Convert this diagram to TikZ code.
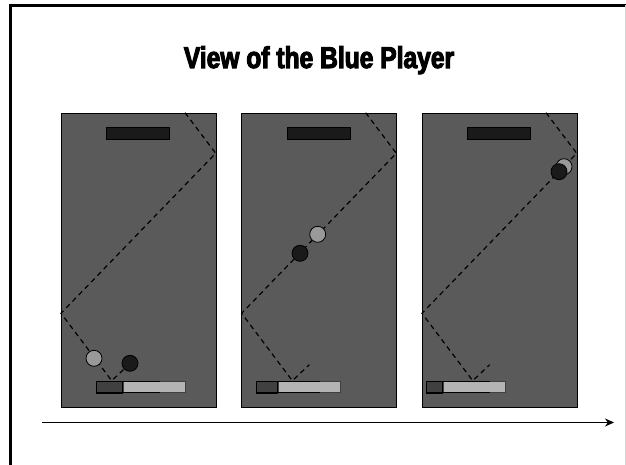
\documentclass[tikz,border=0pt]{standalone}
\usepackage{fontspec}
\newfontfamily\titlefont[FakeStretch=0.82,FakeBold=3.5]{Liberation Sans Bold}
\usepackage{tikz}
\usetikzlibrary{
  arrows.meta,
  positioning
}
\definecolor{fieldgray}{RGB}{90,90,90}
\definecolor{blockblack}{RGB}{26,26,26}
\definecolor{ballgray}{RGB}{153,153,153}
\definecolor{paddledark}{RGB}{64,64,64}
\definecolor{paddlelight}{RGB}{180,180,180}
\tikzset{
  field/.style={draw, fill=fieldgray, line width=0.8pt, inner sep=0pt,
    minimum width=155pt, minimum height=294pt, anchor=north west},
  topblock/.style={draw, fill=blockblack, line width=0.8pt, inner sep=0pt,
    minimum width=63pt, minimum height=11.5pt},
  paddle/.style={inner sep=0pt,
    minimum width=63pt, minimum height=11.3pt, anchor=north west},
  lightbar/.style={draw=paddledark, fill=paddlelight, line width=0.8pt, inner sep=0pt,
    minimum width=62pt, minimum height=11.3pt, anchor=north west},
  lightball/.style={circle, draw, fill=ballgray, line width=0.8pt,
    minimum size=16pt, inner sep=0pt},
  darkball/.style={circle, draw, fill=blockblack, line width=0.8pt,
    minimum size=16pt, inner sep=0pt},
  trail/.style={dashed, dash pattern=on 5pt off 4pt, line width=1.2pt},
  arr/.style={-{Stealth[length=9pt, width=8pt]}, line width=1.6pt},
}

\begin{document}
\begin{tikzpicture}[x=1pt, y=-1pt]
  \useasboundingbox (0,0) rectangle (626,465);

  % Slide frame
  \draw[line width=2.6pt] (10.5,465) -- (10.5,5.5) -- (626,5.5);
  \draw[gray!35, line width=0.8pt] (625,5.5) -- (625,465);

  % Title
  \node[font=\titlefont\fontsize{30}{30}\selectfont, anchor=base] (title) at (319,68)
    {View of the Blue Player};

  % Three snapshots: panel x / light ball / dark ball / paddle / light bar
  \foreach \px/\lx/\ly/\dx/\dy/\pa/\pb [count=\i] in
      {60.7/33.3/245.6/69.3/250.6/36/62,
       241.3/76.4/121.6/58.7/140.6/15.4/36.4,
       421.7/142.3/54/137.3/59/5/21} {
    \begin{scope}[shift={(\px,112.7)}]
      \node[field] (field\i) at (0,0) {};
      \node[topblock] (block\i) at (77.6,20.8) {};
      % ball path
      \draw[trail] (124.3,0) -- (155,40.6) -- (0.3,200.6) -- (51,268) -- (68,252);
      % paddle
      \node[lightbar] (bar\i) at (\pb,268.3) {};
      \node[paddle] (pad\i) at (\pa,268.3) {};
      \filldraw[fill=paddledark, line width=1pt] (pad\i.north west) rectangle (bar\i.south west);
      \draw[line width=1pt] (pad\i.north west) -- (pad\i.north east)
        (pad\i.south west) -- (pad\i.south east);
      % balls
      \node[lightball] (light\i) at (\lx,\ly) {};
      \node[darkball] (dark\i) at (\dx,\dy) {};
    \end{scope}
  }

  % Time axis
  \coordinate (tstart) at (42,422.5);
  \coordinate (tend) at (614,422.5);
  \draw[arr] (tstart) -- (tend);
\end{tikzpicture}
\end{document}
